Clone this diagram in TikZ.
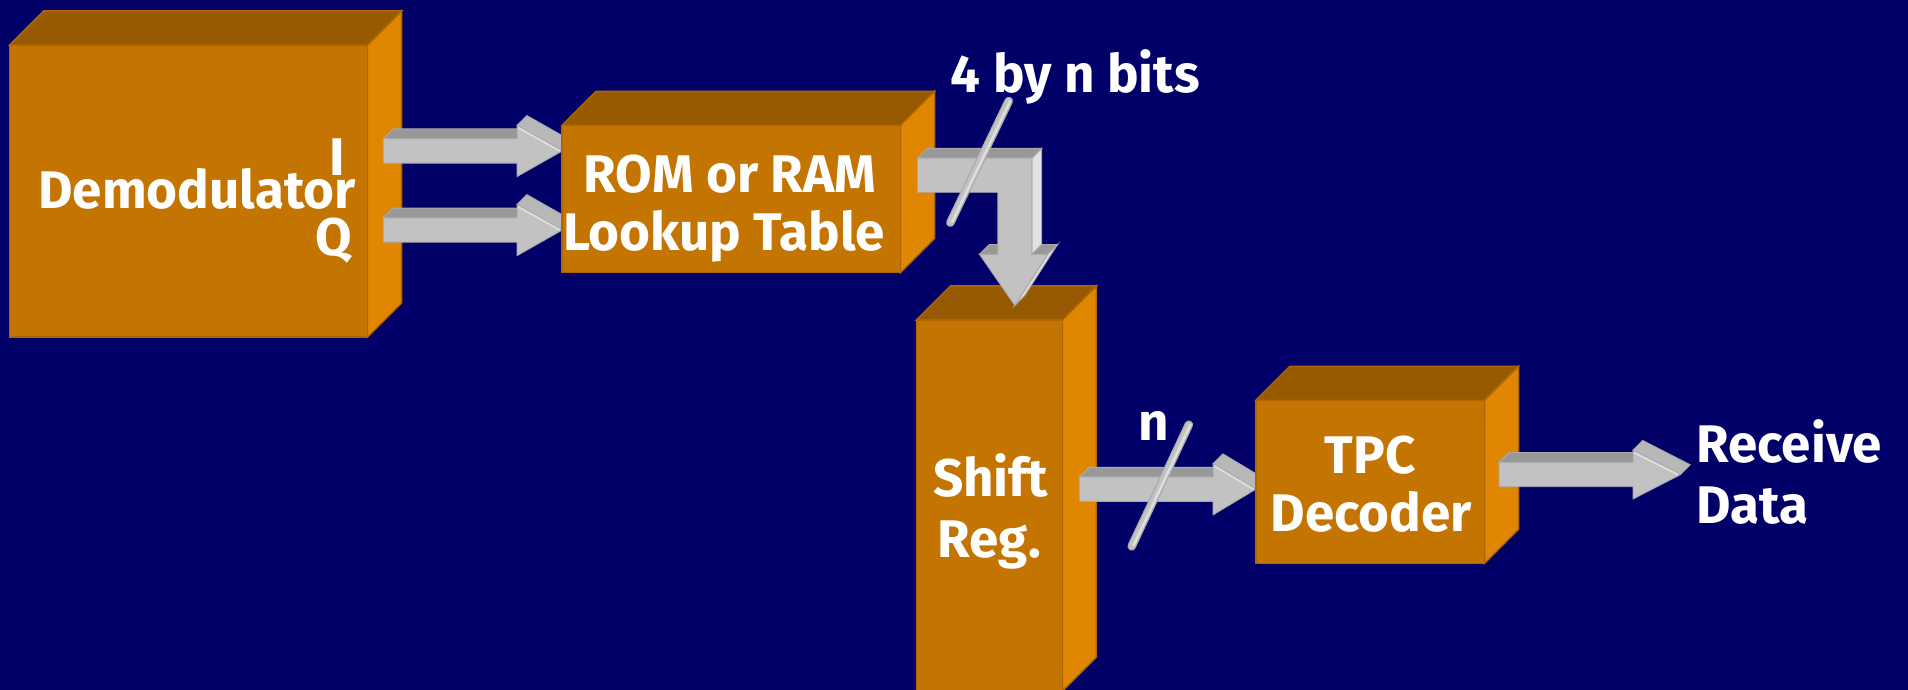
\documentclass[tikz,border=0pt]{standalone}
\usepackage{fontspec}
\setmainfont{Fira Sans}
\definecolor{bgc}{RGB}{0,0,104}
\definecolor{bfront}{RGB}{196,116,0}
\definecolor{btop}{RGB}{151,90,0}
\definecolor{bside}{RGB}{224,134,0}
\definecolor{bedge}{RGB}{176,102,0}
\definecolor{afront}{RGB}{194,194,194}
\definecolor{atop}{RGB}{152,152,152}
\definecolor{afacet}{RGB}{184,184,184}
\definecolor{aside}{RGB}{226,226,226}
\definecolor{alight}{RGB}{222,222,222}
\definecolor{aedge}{RGB}{170,170,170}
\tikzset{
  boxfront/.style={fill=bfront, draw=bedge, line width=1.2},
  boxtop/.style={fill=btop, draw=bedge, line width=1.2},
  boxside/.style={fill=bside, draw=bedge, line width=1.2},
  arrfront/.style={fill=afront, draw=aedge, line width=0.8},
  arrtop/.style={fill=atop, draw=aedge, line width=0.8},
  arrfacet/.style={fill=afacet, draw=aedge, line width=0.8},
  arrside/.style={fill=aside, draw=aedge, line width=0.8},
  lbl/.style={text=white, font=\bfseries\fontsize{43.5}{48}\selectfont, inner sep=0pt, anchor=base},
  lbll/.style={lbl, anchor=base west},
}
% cuboid: x1 y1 x2 y2 depth (front face corners, y downward)
\newcommand\cuboid[5]{%
  \fill[boxtop] (#1,#2) -- (#1+#5,#2-#5) -- (#3+#5,#2-#5) -- (#3,#2) -- cycle;
  \fill[boxside] (#3,#2) -- (#3+#5,#2-#5) -- (#3+#5,#4-#5) -- (#3,#4) -- cycle;
  \fill[boxfront] (#1,#2) rectangle (#3,#4);
}
% horizontal 3D arrow: x0 yc xb xt s H d
\newcommand\harrow[7]{%
  \fill[arrtop] (#1,#2-#5) -- (#1+#7,#2-#5-#7) -- (#3+#7,#2-#5-#7) -- (#3,#2-#5) -- cycle;
  \fill[arrfacet] (#3,#2-#6) -- (#3+#7,#2-#6-#7) -- (#4+#7,#2-#7) -- (#4,#2) -- cycle;
  \fill[arrfront] (#1,#2-#5) -- (#3,#2-#5) -- (#3,#2-#6) -- (#4,#2) -- (#3,#2+#6) -- (#3,#2+#5) -- (#1,#2+#5) -- cycle;
  \draw[alight, line width=1.5] (#3+1,#2-#6+2) -- (#4-2,#2);
}
% slash rod
\newcommand\rod[4]{%
  \draw[aedge, line width=7, line cap=round] (#1,#2) -- (#3,#4);
  \draw[afront, line width=5, line cap=round] (#1,#2) -- (#3,#4);
  \draw[alight, line width=2] (#1+1.5,#2-0.5) -- (#3+1.5,#4-0.5);
}
\begin{document}
\begin{tikzpicture}[x=1pt, y=-1pt]
\fill[bgc] (0,0) rectangle (1568,567);
\useasboundingbox (0,0) rectangle (1568,567);
\clip (0,0) rectangle (1568,567);

% Demodulator
\cuboid{8}{37}{302}{277}{28}
% I and Q arrows
\harrow{315}{124}{425}{462}{10}{21}{8}
\harrow{315}{189}{425}{462}{10}{21}{8}
% ROM
\cuboid{462}{103}{740}{224}{28}
% Shift register
\cuboid{753}{263}{873}{568}{28}
% bent arrow ROM -> Shift
\fill[arrtop] (754,130) -- (762,122) -- (856,122) -- (848,130) -- cycle;
\fill[arrside] (848,130) -- (856,122) -- (856,201) -- (848,209) -- cycle;
\fill[arrtop] (805,209) -- (813,201) -- (828,201) -- (820,209) -- cycle;
\fill[arrtop] (848,209) -- (856,201) -- (869,201) -- (861,209) -- cycle;
\fill[arrside] (861,209) -- (869,201) -- (842,243) -- (834,251) -- cycle;
\fill[arrfront] (754,130) -- (848,130) -- (848,209) -- (861,209) -- (834,251) -- (805,209) -- (820,209) -- (820,158) -- (754,158) -- cycle;
\rod{781}{183}{829}{83}
% arrow Shift -> TPC
\harrow{887}{402}{997}{1032}{10}{21}{8}
\rod{930}{449}{977}{349}
% TPC
\cuboid{1032}{329}{1220}{463}{28}
% output arrow
\harrow{1232}{390}{1342}{1381}{10}{20}{8}

% labels
\node[lbl] (tdemod) at (162,171) {Demodulator};
\node[lbl] (tI) at (277,144) {I};
\node[lbl] (tQ) at (274,210) {Q};
\node[lbl] (trom1) at (600,158) {ROM or RAM};
\node[lbl] (trom2) at (595,206) {Lookup Table};
\node[lbll] (tbits) at (781,76) {4 by n bits};
\node[lbl] (tsh1) at (814,408) {Shift};
\node[lbl] (tsh2) at (813,458) {Reg.};
\node[lbll] (tn) at (935,362) {n};
\node[lbl] (ttpc1) at (1126,389) {TPC};
\node[lbl] (ttpc2) at (1127,437) {Decoder};
\node[lbll] (trx1) at (1394,380) {Receive};
\node[lbll] (trx2) at (1394,430) {Data};
\end{tikzpicture}
\end{document}
